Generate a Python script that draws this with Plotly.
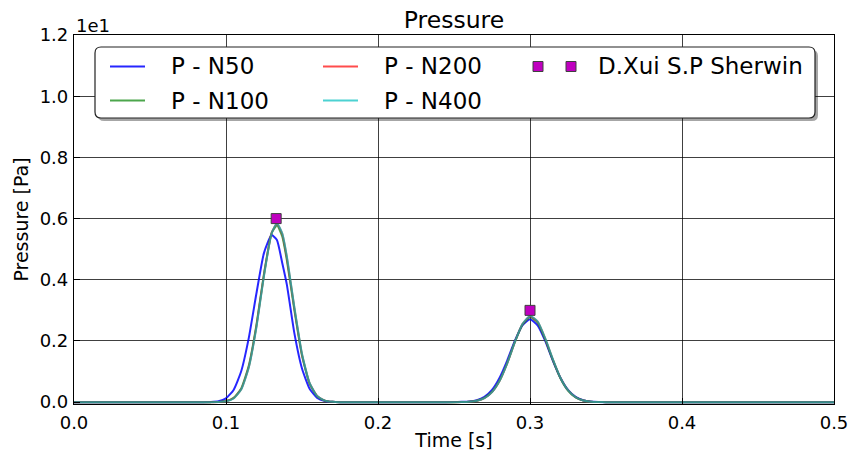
import plotly.graph_objects as go

# ---- data -----------------------------------------------------------------
time_s = [0.0, 0.05, 0.085, 0.09, 0.095, 0.1, 0.105, 0.11, 0.115, 0.12, 0.125,
          0.13, 0.1335, 0.137, 0.14, 0.145, 0.15, 0.155, 0.16, 0.165, 0.17,
          0.175, 0.18, 0.2, 0.24, 0.25, 0.255, 0.26, 0.265, 0.27, 0.275, 0.28,
          0.285, 0.29, 0.295, 0.3, 0.305, 0.31, 0.315, 0.32, 0.325, 0.33,
          0.335, 0.34, 0.345, 0.35, 0.4, 0.45, 0.5]

p_n50 = [0.0, 0.0, 0.0, 0.005, 0.03, 0.126, 0.40, 1.01, 2.10, 3.55, 4.88,
         5.46, 5.30, 4.55, 3.85, 2.25, 1.10, 0.44, 0.14, 0.04, 0.01,
         0.0, 0.0, 0.0, 0.0, 0.003, 0.01, 0.02, 0.065, 0.174, 0.40, 0.80,
         1.36, 2.00, 2.51, 2.71, 2.51, 2.00, 1.36, 0.80, 0.40, 0.174,
         0.065, 0.02, 0.006, 0.0, 0.0, 0.0, 0.0]

p_n100 = [0.0, 0.0, 0.0, 0.001, 0.007, 0.035, 0.14, 0.45, 1.20, 2.52, 4.20,
          5.52, 5.78, 5.42, 4.65, 3.00, 1.52, 0.60, 0.19, 0.05, 0.01,
          0.0, 0.0, 0.0, 0.0, 0.0, 0.003, 0.013, 0.046, 0.14, 0.34, 0.71,
          1.28, 1.96, 2.53, 2.78, 2.60, 2.05, 1.38, 0.78, 0.38, 0.155,
          0.053, 0.015, 0.004, 0.0, 0.0, 0.0, 0.0]

p_n200 = [0.0, 0.0, 0.0, 0.001, 0.006, 0.03, 0.13, 0.42, 1.15, 2.47, 4.16,
          5.53, 5.84, 5.50, 4.74, 3.07, 1.56, 0.62, 0.20, 0.05, 0.01,
          0.0, 0.0, 0.0, 0.0, 0.0, 0.002, 0.012, 0.044, 0.13, 0.33, 0.70,
          1.27, 1.96, 2.55, 2.81, 2.63, 2.08, 1.40, 0.80, 0.39, 0.16,
          0.055, 0.016, 0.004, 0.0, 0.0, 0.0, 0.0]

p_n400 = [0.0, 0.0, 0.0, 0.001, 0.005, 0.027, 0.12, 0.41, 1.13, 2.44, 4.13,
          5.52, 5.85, 5.52, 4.78, 3.10, 1.58, 0.63, 0.20, 0.05, 0.01,
          0.0, 0.0, 0.0, 0.0, 0.0, 0.002, 0.012, 0.044, 0.13, 0.33, 0.70,
          1.27, 1.96, 2.55, 2.82, 2.64, 2.09, 1.41, 0.80, 0.39, 0.16,
          0.055, 0.016, 0.004, 0.0, 0.0, 0.0, 0.0]

ref_time_s = [0.133, 0.3]
ref_p = [6.0, 3.0]

x_ticks = [0.0, 0.1, 0.2, 0.3, 0.4, 0.5]
y_ticks = [0, 2, 4, 6, 8, 10, 12]          # Pa, labelled in units of 1e1
y_ticklabels = ["0.0", "0.2", "0.4", "0.6", "0.8", "1.0", "1.2"]

series = [
    ("P - N50", p_n50, "rgba(0,0,255,0.85)"),
    ("P - N100", p_n100, "rgba(0,128,0,0.7)"),
    ("P - N200", p_n200, "rgba(255,0,0,0.7)"),
    ("P - N400", p_n400, "rgba(0,191,191,0.7)"),
]
ref_name = "D.Xui S.P Sherwin"
ref_color = "#bf00bf"

# ---- figure geometry (pixels) ----------------------------------------------
W, H = 848, 454
PL, PR, PT, PB = 74, 834, 35, 404
FONT = "DejaVu Sans"


def fx(x):
    return (x - PL) / (PR - PL)


def fy(y):
    return (PB - y) / (PB - PT)


fig = go.Figure()
for name, vals, color in series:
    fig.add_trace(go.Scatter(x=time_s, y=vals, mode="lines", name=name,
                             line=dict(color=color, width=2, shape="spline",
                                       smoothing=0.5),
                             showlegend=False))
fig.add_trace(go.Scatter(x=ref_time_s, y=ref_p, mode="markers", name=ref_name,
                         marker=dict(symbol="square", size=10, color=ref_color,
                                     line=dict(color="#404040", width=1)),
                         showlegend=False))

# ---- legend box (rounded, with drop shadow) --------------------------------


def rounded_path(x0, y0, x1, y1, r):
    pts = [
        f"M {fx(x0 + r)},{fy(y0)}",
        f"L {fx(x1 - r)},{fy(y0)}",
        f"Q {fx(x1)},{fy(y0)} {fx(x1)},{fy(y0 + r)}",
        f"L {fx(x1)},{fy(y1 - r)}",
        f"Q {fx(x1)},{fy(y1)} {fx(x1 - r)},{fy(y1)}",
        f"L {fx(x0 + r)},{fy(y1)}",
        f"Q {fx(x0)},{fy(y1)} {fx(x0)},{fy(y1 - r)}",
        f"L {fx(x0)},{fy(y0 + r)}",
        f"Q {fx(x0)},{fy(y0)} {fx(x0 + r)},{fy(y0)}",
        "Z",
    ]
    return " ".join(pts)


shapes = []
LX0, LY0, LX1, LY1 = 95, 47, 815, 118
shapes.append(dict(type="path", xref="paper", yref="paper", layer="above",
                   path=rounded_path(LX0 + 3, LY0 + 3, LX1 + 3, LY1 + 3, 6),
                   fillcolor="rgba(0,0,0,0.35)", line=dict(width=0)))
shapes.append(dict(type="path", xref="paper", yref="paper", layer="above",
                   path=rounded_path(LX0, LY0, LX1, LY1, 6),
                   fillcolor="white", line=dict(color="#222222", width=1.2)))

annotations = []
rows = [66.5, 100.5]
cols = [(110, 145, 169), (323, 358, 382)]
for i, (name, _, color) in enumerate(series):
    lx0, lx1, tx = cols[i // 2]
    yy = rows[i % 2]
    shapes.append(dict(type="line", xref="paper", yref="paper", layer="above",
                       x0=fx(lx0), x1=fx(lx1), y0=fy(yy), y1=fy(yy),
                       line=dict(color=color, width=2)))
    annotations.append(dict(text=name, xref="paper", yref="paper",
                            x=fx(tx), y=fy(yy), xanchor="left",
                            yanchor="middle", showarrow=False,
                            font=dict(family=FONT, size=23, color="black")))
for mx in (538, 571):
    shapes.append(dict(type="rect", xref="paper", yref="paper", layer="above",
                       x0=fx(mx - 5), x1=fx(mx + 5),
                       y0=fy(rows[0] - 5), y1=fy(rows[0] + 5),
                       fillcolor=ref_color, line=dict(color="#404040", width=1)))
annotations.append(dict(text=ref_name, xref="paper", yref="paper",
                        x=fx(596), y=fy(rows[0]), xanchor="left",
                        yanchor="middle", showarrow=False,
                        font=dict(family=FONT, size=23, color="black")))

# axis offset label
annotations.append(dict(text="1e1", xref="paper", yref="paper",
                        x=0, y=fy(25), xanchor="left", yanchor="middle",
                        showarrow=False,
                        font=dict(family=FONT, size=18, color="black")))

axis_common = dict(showline=True, linecolor="black", linewidth=1.2,
                   mirror=True, showgrid=True, gridcolor="rgba(0,0,0,0.75)",
                   gridwidth=0.8, zeroline=False, ticks="inside", ticklen=6,
                   tickcolor="black", automargin=False,
                   ticklabeloverflow="allow",
                   tickfont=dict(family=FONT, size=18, color="black"))

fig.update_layout(
    width=W, height=H,
    margin=dict(l=PL, r=W - PR, t=PT, b=H - PB, pad=0),
    paper_bgcolor="white", plot_bgcolor="white",
    title=dict(text="Pressure", x=fx((PL + PR) / 2), xref="paper",
               xanchor="center", y=1 - 20 / H, yref="container",
               yanchor="middle",
               font=dict(family=FONT, size=23.5, color="black")),
    xaxis=dict(range=[0, 0.5], tickvals=x_ticks,
               ticktext=[f"{v:.1f}" for v in x_ticks],
               title=dict(text="Time [s]", standoff=1,
                          font=dict(family=FONT, size=19, color="black")),
               ticklabelstandoff=2, **axis_common),
    yaxis=dict(range=[-0.06, 12], tickvals=y_ticks, ticktext=y_ticklabels,
               title=dict(text="Pressure [Pa]", standoff=6,
                          font=dict(family=FONT, size=19, color="black")),
               ticklabelstandoff=1, **axis_common),
    shapes=shapes,
    annotations=annotations,
    showlegend=False,
)

fig.write_html("out.html")
